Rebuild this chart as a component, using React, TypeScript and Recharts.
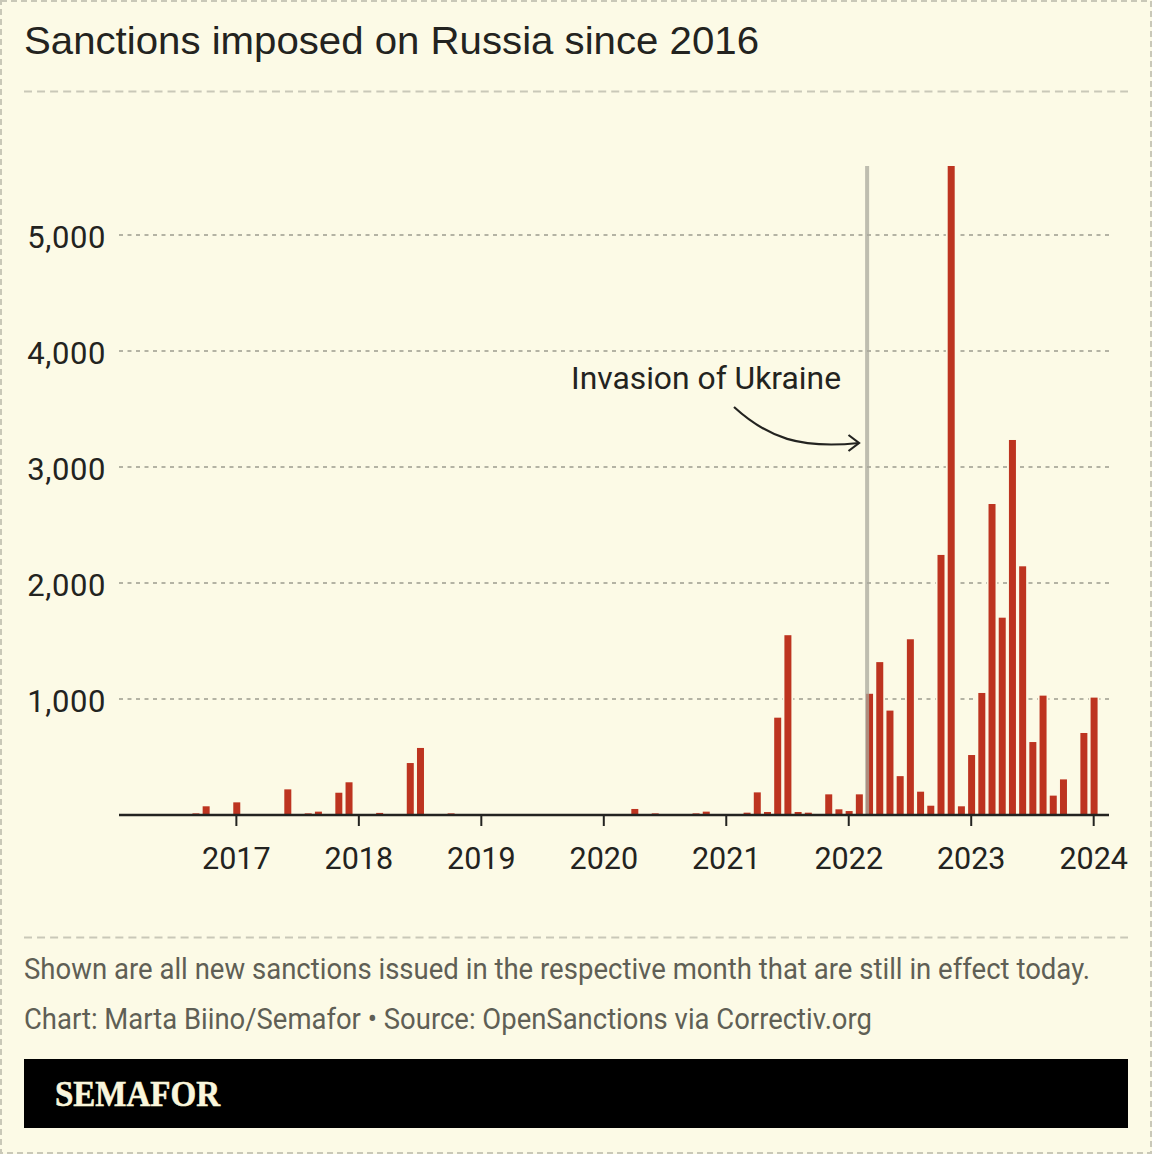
import React from 'react';
import { BarChart, Bar, XAxis, YAxis, CartesianGrid, ReferenceLine } from 'recharts';

const WIDTH = 1152;
const HEIGHT = 1154;
const BG = '#fcfae6';
const INK = '#232320';
const MUTED = '#5f5f55';
const RULE = '#c9c8b8';
const RED = '#bd3420';
const FONT = 'Roboto, sans-serif';

// months counted from Jan 2017 = 0, so Feb 2016 = -11
const values2016 = [0, 0, 0, 0, 0, 0, 0, 14, 75, 0, 0]; // Feb-Dec
const values2017 = [109, 0, 0, 0, 0, 221, 0, 14, 29, 0, 192, 282];
const values2018 = [0, 0, 18, 0, 0, 448, 578, 0, 0, 14, 0, 0];
const values2019 = [0, 0, 0, 0, 0, 0, 0, 0, 0, 0, 0, 0];
const values2020 = [0, 0, 0, 52, 0, 14, 0, 0, 0, 14, 29, 0];
const values2021 = [0, 0, 20, 195, 26, 839, 1550, 26, 20, 0, 178, 49];
const values2022 = [34, 178, 1045, 1318, 900, 335, 1515, 201, 80, 2242, 5595, 75];
const values2023 = [517, 1052, 2681, 1701, 3233, 2144, 629, 1029, 167, 307, 0, 707];
const values2024 = [1012, 0]; // Jan-Feb

const sanctions = [
  ...values2016, ...values2017, ...values2018, ...values2019, ...values2020,
  ...values2021, ...values2022, ...values2023, ...values2024,
];
const chartData = sanctions.map((value, i) => ({ month: i - 11, value }));

const years = [2017, 2018, 2019, 2020, 2021, 2022, 2023, 2024];
const yearTicks = years.map((y) => (y - 2017) * 12);
const valueTicks = [1000, 2000, 3000, 4000, 5000];
const invasionMonth = 61.8; // 24 Feb 2022

// the gridlines stop short of the bars, so each bar clears a little space around itself
const HaloBar = (props: any) => {
  const { x, y, width, height } = props;
  if (!height) return null;
  return (
    <g>
      <rect x={x - 1.8} y={y} width={width + 3.6} height={height} fill={BG} />
      <rect x={x} y={y} width={width} height={height} fill={RED} />
    </g>
  );
};

export default function App() {
  return (
    <div style={{ position: 'absolute', left: 0, top: 0, width: WIDTH, height: HEIGHT, background: BG, overflow: 'hidden' }}>
      <BarChart
        width={WIDTH}
        height={HEIGHT}
        data={chartData}
        margin={{ top: 166, right: 43, left: 0, bottom: 279 }}
        style={{ position: 'absolute', left: 0, top: 0 }}
      >
        <CartesianGrid
          vertical={false}
          horizontalValues={valueTicks}
          stroke="#b4b3a4"
          strokeWidth={2}
          strokeDasharray="4 4.5"
        />
        <XAxis
          dataKey="month"
          type="number"
          domain={[-11.5, 85.5]}
          ticks={yearTicks}
          interval={0}
          height={60}
          tickFormatter={(m: number) => String(2017 + m / 12)}
          tick={{ fill: INK, fontSize: 30.5, fontFamily: FONT, dy: 19 }}
          tickSize={11}
          tickLine={{ stroke: INK, strokeWidth: 2 }}
          axisLine={{ stroke: INK, strokeWidth: 2.4 }}
        />
        <YAxis
          type="number"
          domain={[0, 5595]}
          ticks={valueTicks}
          width={119}
          interval={0}
          axisLine={false}
          tickLine={false}
          tickSize={0}
          tickMargin={13}
          tickFormatter={(v: number) => v.toLocaleString('en-US')}
          tick={{ fill: INK, fontSize: 31, fontFamily: FONT, dy: 1.5, letterSpacing: 0.6 }}
        />
        <Bar dataKey="value" fill={RED} barSize={7} shape={HaloBar} isAnimationActive={false} />
        <ReferenceLine x={invasionMonth} stroke="#a9a89c" strokeOpacity={0.75} strokeWidth={4} />
      </BarChart>

      <svg width={WIDTH} height={HEIGHT} style={{ position: 'absolute', left: 0, top: 0, pointerEvents: 'none' }}>
        <rect x={1} y={1} width={WIDTH - 2} height={HEIGHT - 2} fill="none" stroke={RULE} strokeWidth={2} strokeDasharray="6 4" />
        <line x1={24} x2={1128} y1={91.5} y2={91.5} stroke={RULE} strokeWidth={2} strokeDasharray="8 5.05" />
        <line x1={24} x2={1128} y1={937.5} y2={937.5} stroke={RULE} strokeWidth={2} strokeDasharray="8 5.05" />

        <text x={24} y={54} fill={INK} fontSize={39} fontFamily="'Liberation Sans', sans-serif" textLength={735} lengthAdjust="spacingAndGlyphs">
          Sanctions imposed on Russia since 2016
        </text>

        <text x={571} y={389} fill={INK} fontSize={32} fontFamily={FONT} textLength={270} lengthAdjust="spacingAndGlyphs">
          Invasion of Ukraine
        </text>
        <path d="M734 407 C768 438 800 449 859 443" fill="none" stroke={INK} strokeWidth={2.2} />
        <path d="M848.5 435 L859 443 L848.5 451" fill="none" stroke={INK} strokeWidth={2.2} />

        <text x={24} y={979} fill={MUTED} fontSize={29} fontFamily={FONT} textLength={1066} lengthAdjust="spacingAndGlyphs">
          Shown are all new sanctions issued in the respective month that are still in effect today.
        </text>
        <text x={24} y={1029} fill={MUTED} fontSize={29} fontFamily={FONT} textLength={848} lengthAdjust="spacingAndGlyphs">
          Chart: Marta Biino/Semafor • Source: OpenSanctions via Correctiv.org
        </text>

        <rect x={24} y={1059} width={1104} height={69} fill="#000" />
        <text x={55} y={1106} fill="#faf6dc" stroke="#faf6dc" strokeWidth={0.6} fontSize={36} fontWeight={700} fontFamily="'Liberation Serif', serif" textLength={165} lengthAdjust="spacingAndGlyphs">
          SEMAFOR
        </text>
      </svg>
    </div>
  );
}
